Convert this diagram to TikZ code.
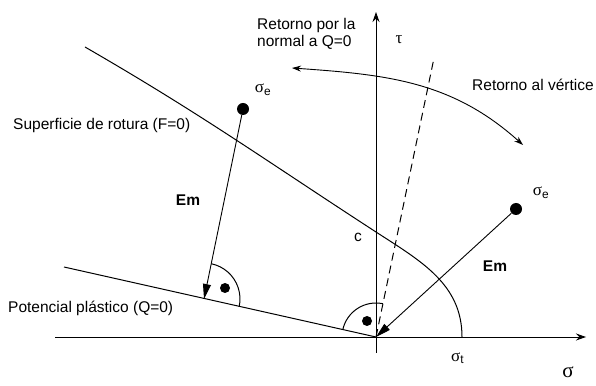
\documentclass[tikz,border=0pt]{standalone}
\usepackage{fontspec}
\setmainfont{Liberation Sans}
\newfontfamily\grk{Liberation Serif}
\usetikzlibrary{arrows.meta}

\begin{document}
\begin{tikzpicture}[
        x=1pt, y=1pt,
        every node/.style={inner sep=0pt, font=\fontsize{15.5}{17}\selectfont},
        dot/.style={circle, fill=black, minimum size=12pt},
        smalldot/.style={circle, fill=black, minimum size=10pt},
        greek/.style={font=\grk\fontsize{17}{17}\selectfont},
        emlabel/.style={font=\fontsize{15.5}{17}\selectfont\bfseries},
        curve/.style={line width=1pt},
        axis/.style={line width=0.9pt, -{Stealth[length=10pt,width=7pt]}},
        em/.style={line width=0.9pt, -{Triangle[length=15pt,width=8pt]}},
        turn/.style={line width=0.9pt, {Stealth[length=9pt,width=6pt]}-{Stealth[length=9pt,width=6pt]}}
    ]
    \useasboundingbox (0,0) rectangle (596,385);

    \coordinate (O) at (376,48);
    \coordinate (sl) at (55,48);
    \coordinate (sr) at (586,48);
    \coordinate (tb) at (376,32);
    \coordinate (tt) at (376,373);
    \draw[axis] (sl) -- (sr);
    \draw[axis] (tb) -- (tt);

    % superficie de rotura y potencial plastico
    \coordinate (F) at (85,338);
    \coordinate (c) at (376,153);
    \coordinate (st) at (462,48);
    \draw[curve] (F) to[out=-30,in=147] (c) to[out=-33,in=90] (st);
    \coordinate (Q) at (64,118);
    \draw[curve] (Q) -- (O);
    \coordinate (N) at (434,327);
    \draw[curve, dash pattern=on 8pt off 5pt] (O) -- (N);

    % retornos
    \coordinate (r1) at (292,317);
    \coordinate (r2) at (523,240);
    \draw[turn] (r1) to[out=-4,in=138] (r2);

    \node[dot] (se1) at (243,276) {};
    \node[dot] (se2) at (516,176) {};
    \coordinate (F1) at (204,86);
    \draw[em] (se1) -- (F1);
    \draw[em] (se2) -- (O);

    \draw[curve] (F1) ++(78.4:36) arc[start angle=78.4, end angle=-12.6, radius=36];
    \draw[curve] (O) ++(167.4:34) arc[start angle=167.4, end angle=78.3, radius=34];
    \node[smalldot] (m1) at (225,97) {};
    \node[smalldot] (m2) at (367,64) {};

    \node[greek] (lse1) at (263,295) {σ\textsubscript{\rmfamily e}};
    \node[greek] (lse2) at (541,192) {σ\textsubscript{\rmfamily e}};
    \node[greek] (tau) at (399,345) {τ};
    \node[greek, anchor=west] (sigt) at (451,27) {σ\textsubscript{\rmfamily t}};
    \node[greek, font=\grk\fontsize{21}{21}\selectfont] (sig) at (568,13) {σ};
    \node (clbl) at (358,148) {c};
    \node[emlabel] (em1) at (188,185) {Em};
    \node[emlabel] (em2) at (495,119) {Em};

    \node[anchor=west, align=left] (rn) at (257,351.5) {Retorno por la\\normal a Q=0};
    \node[anchor=west] (rv) at (472,300) {Retorno al vértice};
    \node[anchor=west] (sup) at (13,260) {Superficie de rotura (F=0)};
    \node[anchor=west] (pot) at (8,77) {Potencial plástico (Q=0)};

\end{tikzpicture}
\end{document}
